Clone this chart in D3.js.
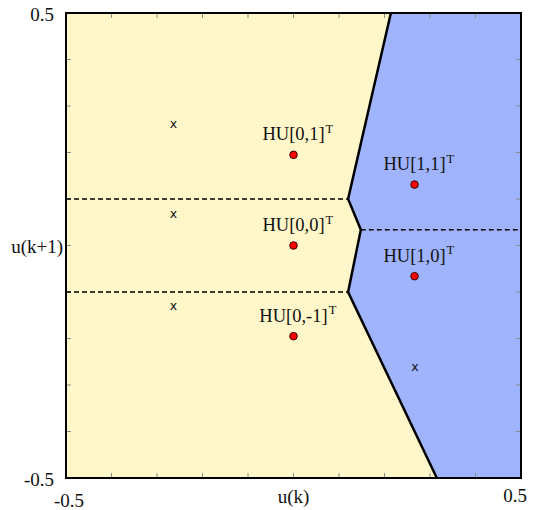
<!DOCTYPE html>
<html lang="en">
  <head>
    <meta charset="UTF-8" />
    <title>Partition of u(k), u(k+1)</title>
    <script src="https://d3js.org/d3.v7.min.js"></script>
    <style>
      body { margin: 0; background: #fff; }
      svg text { font-family: "Liberation Serif", "DejaVu Serif", serif; fill: #111; }
    </style>
  </head>
  <body>
    <svg width="536" height="510"></svg>
    <script>
      // region boundary (yellow region, clockwise), data coords
      const yellowRegion = [
        [-0.5, 0.5], [0.214, 0.5], [0.12, 0.1], [0.148, 0.034],
        [0.12, -0.1], [0.315, -0.5], [-0.5, -0.5]
      ];
      const boundary = [
        [0.214, 0.5], [0.12, 0.1], [0.148, 0.034], [0.12, -0.1], [0.315, -0.5]
      ];
      const dashedLines = [
        [[-0.5, 0.1], [0.12, 0.1]],
        [[-0.5, -0.1], [0.12, -0.1]],
        [[0.148, 0.034], [0.5, 0.034]]
      ];
      // red points with labels
      const pointLabels = ["HU[0,1]", "HU[0,0]", "HU[0,-1]", "HU[1,1]", "HU[1,0]"];
      const pointX = [0, 0, 0, 0.266, 0.266];
      const pointY = [0.195, 0, -0.195, 0.131, -0.066];
      // "x" markers
      const crossX = [-0.264, -0.264, -0.264, 0.267];
      const crossY = [0.261, 0.067, -0.13, -0.261];
      const ticks = d3.range(-0.4, 0.45, 0.1);

      const svg = d3.select("svg");
      const margin = { left: 66, top: 13 };
      const w = 455, h = 465;
      const x = d3.scaleLinear().domain([-0.5, 0.5]).range([margin.left, margin.left + w]);
      const y = d3.scaleLinear().domain([-0.5, 0.5]).range([margin.top + h, margin.top]);
      const line = d3.line().x(d => x(d[0])).y(d => y(d[1]));

      // background (blue) then yellow region
      svg.append("rect")
        .attr("x", x(-0.5)).attr("y", y(0.5))
        .attr("width", w).attr("height", h)
        .attr("fill", "#9fb4fd");
      svg.append("path")
        .attr("d", line(yellowRegion) + "Z")
        .attr("fill", "#fff7c9");

      // ticks (inward, all four sides)
      const tk = svg.append("g").attr("stroke", "#8a8a8a").attr("stroke-width", 1);
      ticks.forEach(t => {
        tk.append("line").attr("x1", x(t)).attr("x2", x(t)).attr("y1", y(-0.5)).attr("y2", y(-0.5) - 5);
        tk.append("line").attr("x1", x(t)).attr("x2", x(t)).attr("y1", y(0.5)).attr("y2", y(0.5) + 5);
        tk.append("line").attr("y1", y(t)).attr("y2", y(t)).attr("x1", x(-0.5)).attr("x2", x(-0.5) + 5);
        tk.append("line").attr("y1", y(t)).attr("y2", y(t)).attr("x1", x(0.5)).attr("x2", x(0.5) - 5);
      });

      // dashed lines
      svg.append("g").selectAll("path")
        .data(dashedLines)
        .enter()
        .append("path")
        .attr("d", d => line(d))
        .attr("fill", "none")
        .attr("stroke", "#000")
        .attr("stroke-width", 1.6)
        .attr("stroke-dasharray", "5,3");

      // solid boundary
      svg.append("path")
        .attr("d", line(boundary))
        .attr("fill", "none")
        .attr("stroke", "#000")
        .attr("stroke-width", 2.5)
        .attr("stroke-linejoin", "miter");

      // frame
      svg.append("rect")
        .attr("x", x(-0.5)).attr("y", y(0.5))
        .attr("width", w).attr("height", h)
        .attr("fill", "none")
        .attr("stroke", "#000")
        .attr("stroke-width", 2);

      // x markers
      svg.append("g").selectAll("text")
        .data(crossX)
        .enter()
        .append("text")
        .attr("x", d => x(d))
        .attr("y", (d, i) => y(crossY[i]) + 4)
        .attr("text-anchor", "middle")
        .style("font-family", "'DejaVu Sans', sans-serif")
        .style("font-size", "12.5px")
        .text("x");

      // red points
      svg.append("g").selectAll("circle")
        .data(pointX)
        .enter()
        .append("circle")
        .attr("cx", d => x(d))
        .attr("cy", (d, i) => y(pointY[i]))
        .attr("r", 3.8)
        .attr("fill", "#ff0000")
        .attr("stroke", "#300")
        .attr("stroke-width", 1);

      // labels: main text centred on point, superscript T appended
      pointLabels.forEach((lab, i) => {
        const t = svg.append("text")
          .attr("x", x(pointX[i]))
          .attr("y", y(pointY[i]) - 14.5)
          .attr("text-anchor", "middle")
          .style("font-size", "18.5px")
          .text(lab);
        const bb = t.node().getBBox();
        svg.append("text")
          .attr("x", bb.x + bb.width + 1)
          .attr("y", y(pointY[i]) - 22)
          .style("font-size", "12.5px")
          .text("T");
      });

      // axis labels
      const lab = svg.append("g").style("font-size", "19px");
      lab.append("text").attr("x", 54).attr("y", y(0.5) + 8).attr("text-anchor", "end").text("0.5");
      lab.append("text").attr("x", 54).attr("y", y(-0.5) + 8).attr("text-anchor", "end").text("-0.5");
      lab.append("text").attr("x", 63).attr("y", y(0) + 7).attr("text-anchor", "end").text("u(k+1)");
      lab.append("text").attr("x", x(-0.5) + 3).attr("y", 507).attr("text-anchor", "middle").text("-0.5");
      lab.append("text").attr("x", x(0)).attr("y", 503).attr("text-anchor", "middle").text("u(k)");
      lab.append("text").attr("x", x(0.5) - 6).attr("y", 502).attr("text-anchor", "middle").text("0.5");
    </script>
  </body>
</html>
